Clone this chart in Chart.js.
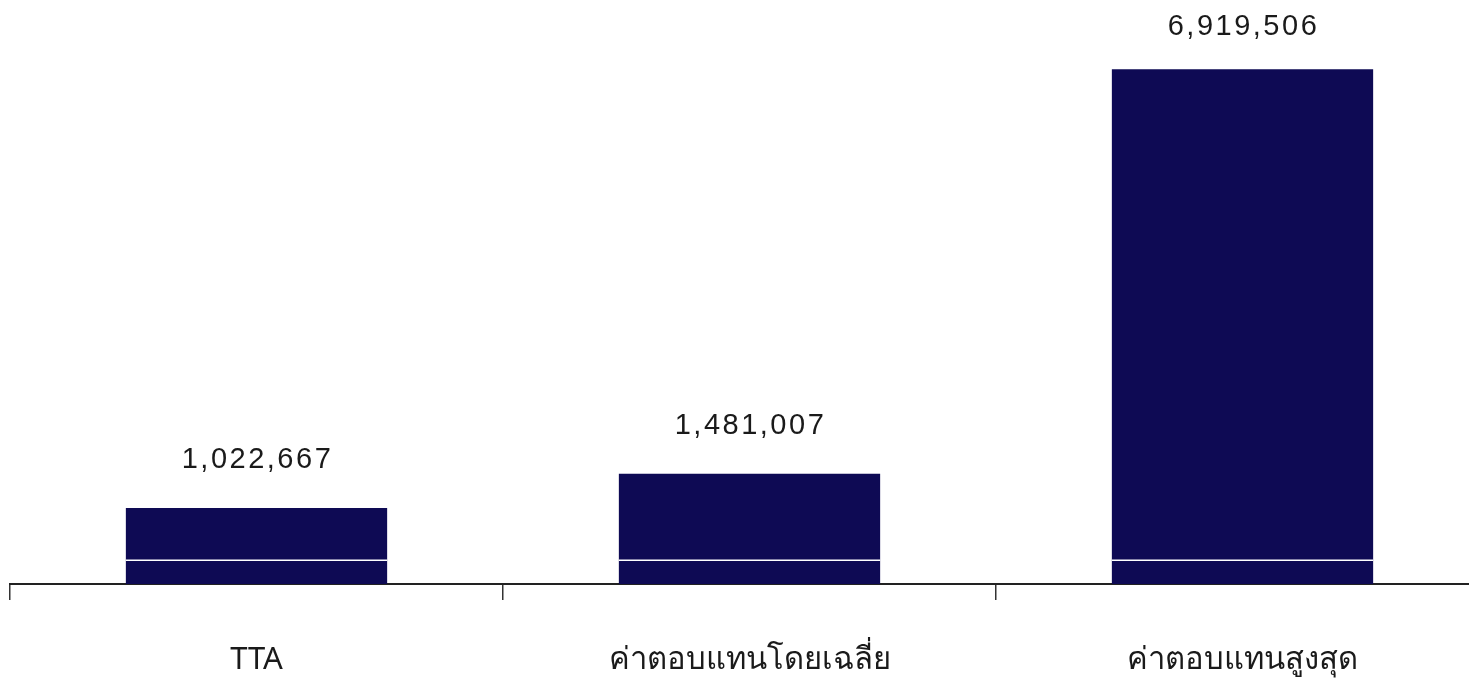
<!DOCTYPE html>
<html>
<head>
<meta charset="utf-8">
<script src="https://cdn.jsdelivr.net/npm/chart.js@4.4.1/dist/chart.umd.min.js"></script>
<style>
  html, body { margin: 0; padding: 0; background: #fff; overflow: hidden; }
  #wrap { width: 1489px; height: 678px; }
</style>
</head>
<body>
<div id="wrap"><canvas id="barChart"></canvas></div>
<script>
const categories = ['TTA', 'ค่าตอบแทนโดยเฉลี่ย', 'ค่าตอบแทนสูงสุด'];
const values = [1022667, 1481007, 6919506];
const markerValue = 320000;   // white line seen across the bottom of every bar
const yMax = 7850000;

const barColor = '#0e0a54';

const valueLabels = {
    id: 'valueLabels',
    afterDatasetsDraw(chart) {
        const ctx = chart.ctx;
        const meta = chart.getDatasetMeta(0);
        const yScale = chart.scales.y;
        const markY = yScale.getPixelForValue(markerValue);
        ctx.save();
        // white line
        ctx.strokeStyle = '#ffffff';
        ctx.lineWidth = 1.5;
        meta.data.forEach((bar) => {
            const half = bar.width / 2;
            ctx.beginPath();
            ctx.moveTo(bar.x - half, markY);
            ctx.lineTo(bar.x + half, markY);
            ctx.stroke();
        });
        // numbers above bars
        ctx.fillStyle = '#1a1a1a';
        ctx.font = '29px "Liberation Sans", Arial, sans-serif';
        ctx.textAlign = 'center';
        ctx.textBaseline = 'middle';
        if ('letterSpacing' in ctx) ctx.letterSpacing = '2.5px';
        meta.data.forEach((bar, i) => {
            const gap = i === 2 ? 42 : 48;
            ctx.fillText(values[i].toLocaleString('en-US'), bar.x + 1, bar.y - gap);
        });
        ctx.restore();
    }
};

new Chart(document.getElementById('barChart'), {
    type: 'bar',
    data: {
        labels: categories,
        datasets: [{
            data: values,
            backgroundColor: barColor,
            barPercentage: 0.53,
            categoryPercentage: 1.0,
        }],
    },
    options: {
        responsive: true,
        maintainAspectRatio: false,
        animation: false,
        layout: { padding: { left: 10, right: 0, top: 0, bottom: 0 } },
        plugins: {
            legend: { display: false },
            tooltip: { enabled: false },
        },
        scales: {
            y: {
                display: false,
                min: 0,
                max: yMax,
            },
            x: {
                offset: true,
                grid: {
                    offset: true,
                    drawOnChartArea: false,
                    tickLength: 16,
                    color: '#333',
                    lineWidth: 1.5,
                },
                border: { color: '#222', width: 2 },
                ticks: {
                    color: '#1a1a1a',
                    padding: 42,
                    font: { family: '"Noto Sans", "DejaVu Sans", sans-serif', size: 31 },
                    maxRotation: 0,
                },
                afterFit(scale) { scale.height = 94; },
            },
        },
    },
    plugins: [valueLabels],
});
</script>
</body>
</html>
